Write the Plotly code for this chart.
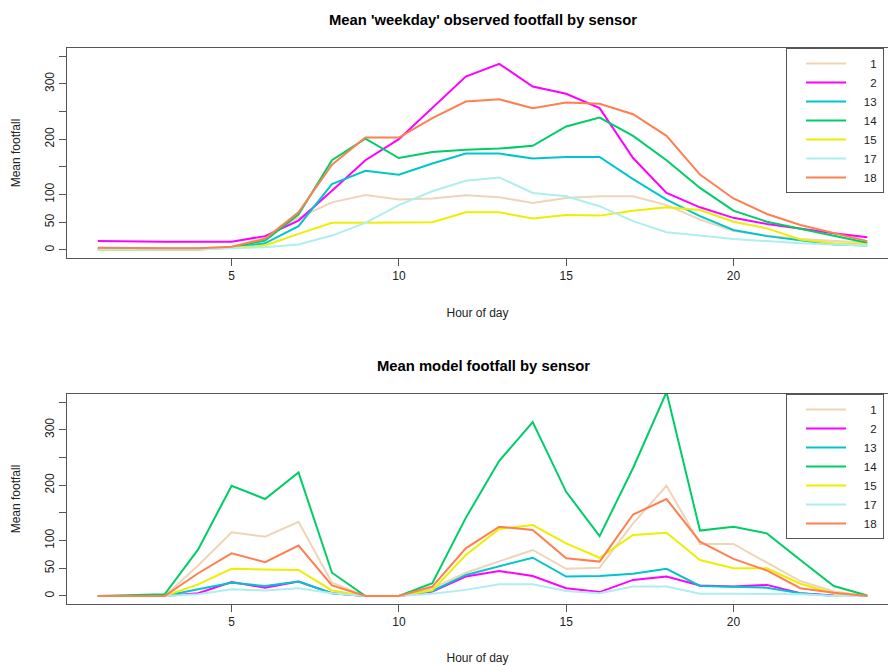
import plotly.graph_objects as go

hours = list(range(1, 25))
sensors = ["1", "2", "13", "14", "15", "17", "18"]
colors = ["#EED5B7", "#FF00FF", "#00C5CD", "#00CD66", "#EEEE00", "#AEEEEE", "#FF7F50"]

# Observed weekday mean footfall by hour
obs_1 = [4, 3, 3, 3, 5, 22, 58, 86, 99, 91, 93, 99, 95, 85, 94, 97, 97, 81, 55, 34, 26, 20, 16, 13]
obs_2 = [16, 15, 15, 15, 15, 25, 53, 107, 162, 200, 257, 313, 336, 295, 282, 256, 166, 103, 77, 58, 47, 38, 30, 23]
obs_13 = [2, 2, 2, 2, 4, 12, 43, 119, 143, 136, 156, 174, 174, 165, 168, 168, 128, 91, 61, 36, 25, 18, 10, 8]
obs_14 = [1, 1, 1, 1, 5, 17, 64, 162, 201, 166, 177, 181, 183, 188, 223, 239, 206, 162, 112, 71, 51, 38, 25, 13]
obs_15 = [1, 1, 1, 1, 4, 8, 29, 49, 49, 49, 50, 68, 68, 57, 63, 62, 71, 77, 72, 51, 39, 19, 12, 10]
obs_17 = [1, 1, 1, 1, 3, 5, 10, 26, 49, 81, 106, 125, 131, 103, 97, 79, 52, 32, 26, 20, 16, 12, 10, 8]
obs_18 = [4, 3, 3, 3, 6, 20, 68, 154, 203, 203, 238, 268, 272, 256, 266, 264, 245, 206, 136, 93, 65, 45, 30, 16]

# Model mean footfall by hour
mod_1 = [0, 0, 0, 55, 115, 107, 134, 24, 0, 0, 14, 42, 63, 83, 49, 51, 131, 199, 94, 94, 60, 27, 8, 0]
mod_2 = [0, 0, 0, 5, 25, 15, 26, 5, 0, 0, 8, 35, 45, 36, 14, 7, 29, 35, 19, 17, 20, 5, 1, 0]
mod_13 = [0, 0, 0, 12, 24, 18, 26, 5, 0, 0, 9, 38, 53, 69, 35, 36, 40, 49, 18, 17, 15, 5, 0, 0]
mod_14 = [0, 1, 3, 84, 199, 175, 223, 42, 0, 0, 23, 141, 244, 314, 188, 108, 231, 368, 118, 125, 113, 65, 18, 1]
mod_15 = [0, 0, 0, 21, 49, 48, 47, 10, 0, 0, 10, 74, 121, 128, 95, 69, 110, 114, 65, 50, 50, 22, 5, 0]
mod_17 = [0, 0, 0, 3, 12, 10, 14, 5, 0, 0, 4, 11, 21, 21, 9, 5, 17, 17, 4, 4, 4, 3, 0, 0]
mod_18 = [0, 0, 0, 41, 77, 61, 91, 19, 0, 0, 17, 86, 125, 119, 68, 62, 147, 175, 98, 67, 46, 14, 6, 0]

x_ticks = [5, 10, 15, 20]
y_tickvals = [0, 50, 100, 150, 200, 250, 300, 350]
y_ticktext = ["0", "50", "100", "", "200", "", "300", ""]

observed = [obs_1, obs_2, obs_13, obs_14, obs_15, obs_17, obs_18]
model = [mod_1, mod_2, mod_13, mod_14, mod_15, mod_17, mod_18]

FONT = "Liberation Sans, Arial, sans-serif"
AX = "#555555"


def legend_label(name):
    # figure spaces right-align the sensor numbers like the original legend
    return "\u2007" * (4 - len(name)) + name


fig = go.Figure()
for name, col, ys in zip(sensors, colors, observed):
    fig.add_trace(go.Scatter(x=hours, y=ys, mode="lines", name=legend_label(name),
                             line=dict(color=col, width=2),
                             xaxis="x", yaxis="y", legend="legend"))
for name, col, ys in zip(sensors, colors, model):
    fig.add_trace(go.Scatter(x=hours, y=ys, mode="lines", name=legend_label(name),
                             line=dict(color=col, width=2),
                             xaxis="x2", yaxis="y2", legend="legend2"))

H_DOM = 0.3777
common_x = dict(range=[0.08, 24.62], tickvals=x_ticks, ticks="outside", ticklen=7,
                tickcolor=AX, showline=True, linecolor=AX, linewidth=1, mirror=True,
                showgrid=False, zeroline=False, automargin=False,
                tickfont=dict(family=FONT, size=12, color="#222"),
                title=dict(text="Hour of day", font=dict(family=FONT, size=12, color="#222"), standoff=26))
common_y = dict(range=[-14.5, 364.6], tickvals=y_tickvals, ticktext=y_ticktext,
                ticks="outside", ticklen=7, tickcolor=AX, tickangle=-90,
                showline=True, linecolor=AX, linewidth=1, mirror=True,
                showgrid=False, zeroline=False, automargin=False,
                tickfont=dict(family=FONT, size=12, color="#222"),
                title=dict(text="Mean footfall", font=dict(family=FONT, size=12, color="#222"), standoff=19))

legend_common = dict(bgcolor="white", bordercolor=AX, borderwidth=1,
                     font=dict(family=FONT, size=11.5, color="#222"),
                     xanchor="left", yanchor="top", x=0.8758, itemwidth=40,
                     indentation=14, tracegroupgap=0)

fig.update_layout(
    width=888, height=665,
    margin=dict(l=67, r=0, t=48, b=61),
    paper_bgcolor="white", plot_bgcolor="white",
    showlegend=True,
    xaxis=dict(domain=[0, 1], anchor="y", **common_x),
    yaxis=dict(domain=[1 - H_DOM, 1], anchor="x", **common_y),
    xaxis2=dict(domain=[0, 1], anchor="y2", **common_x),
    yaxis2=dict(domain=[0, H_DOM], anchor="x2", **common_y),
    legend=dict(y=1, **legend_common),
    legend2=dict(y=H_DOM, **legend_common),
    annotations=[
        dict(text="<b>Mean 'weekday' observed footfall by sensor</b>", x=0.5067, y=1.0504,
             xref="paper", yref="paper", showarrow=False, xanchor="center", yanchor="middle",
             font=dict(family=FONT, size=14.8, color="black")),
        dict(text="<b>Mean model footfall by sensor</b>", x=0.5067, y=0.428,
             xref="paper", yref="paper", showarrow=False, xanchor="center", yanchor="middle",
             font=dict(family=FONT, size=14.8, color="black")),
    ],
)

fig.write_html("out.html", config={"displayModeBar": False},
               post_script="document.body.style.margin='0';")
